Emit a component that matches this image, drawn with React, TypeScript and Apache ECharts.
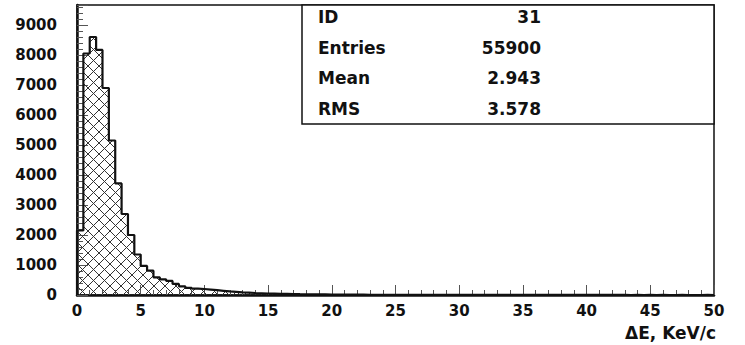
import React, { useEffect, useRef } from "react";
import * as echarts from "echarts";

// Histogram of ΔE (KeV/c), 100 bins of width 0.5 from 0 to 50
const BIN_WIDTH = 0.5;
const BIN_COUNTS = [
  2150, 8050, 8600, 8170, 6900, 5150, 3720, 2700, 2000, 1350,
  970, 810, 590, 520, 470, 370, 290, 240, 215, 200,
  180, 160, 140, 120, 105, 90, 78, 66, 58, 50,
  45, 40, 36, 32, 28, 25, 22, 20, 18, 16,
  14, 13, 12, 11, 10, 9, 8, 8, 7, 7,
  6, 6, 5, 5, 5, 4, 4, 4, 3, 3,
  3, 3, 3, 2, 2, 2, 2, 2, 2, 2,
  2, 2, 1, 1, 1, 1, 1, 1, 1, 1,
  1, 1, 1, 1, 1, 1, 0, 1, 0, 1,
  0, 1, 0, 0, 1, 0, 0, 0, 1, 0,
];
const X_MIN = 0;
const X_MAX = 50;
const Y_MAX = 9667;

const STAT_LABELS = ["ID", "Entries", "Mean", "RMS"];
const STAT_VALUES = ["31", "55900", "2.943", "3.578"];
const X_TITLE = "\u0394E, KeV/c";

const FONT = "DejaVu Sans";

function makeHatch(): HTMLCanvasElement {
  const c = document.createElement("canvas");
  c.width = 11;
  c.height = 11;
  const ctx = c.getContext("2d")!;
  ctx.strokeStyle = "#333";
  ctx.lineWidth = 1;
  ctx.beginPath();
  ctx.moveTo(-1, -1);
  ctx.lineTo(12, 12);
  ctx.moveTo(-1, 12);
  ctx.lineTo(12, -1);
  ctx.stroke();
  return c;
}

export default function App() {
  const ref = useRef<HTMLDivElement>(null);

  useEffect(() => {
    if (!ref.current) return;
    const chart = echarts.init(ref.current, null, { renderer: "svg" });

    const pts: [number, number][] = [[X_MIN, 0]];
    BIN_COUNTS.forEach((v, i) => pts.push([X_MIN + i * BIN_WIDTH, v]));
    pts.push([X_MAX, BIN_COUNTS[BIN_COUNTS.length - 1]]);
    pts.push([X_MAX, 0]);

    const hatch = makeHatch();

    const statTexts: any[] = [];
    STAT_LABELS.forEach((lab, i) => {
      const y = 17 + i * 30.5;
      statTexts.push({
        type: "text",
        x: 318,
        y: y,
        style: {
          text: lab,
          font: `bold 17px '${FONT}'`,
          fill: "#111",
          textAlign: "left",
          textVerticalAlign: "middle",
        },
      });
      statTexts.push({
        type: "text",
        x: 541,
        y: y,
        style: {
          text: STAT_VALUES[i],
          font: `bold 17px '${FONT}'`,
          fill: "#111",
          textAlign: "right",
          textVerticalAlign: "middle",
        },
      });
    });

    chart.setOption({
      animation: false,
      backgroundColor: "#fff",
      grid: {
        left: 77,
        top: 5,
        width: 637,
        height: 290,
        show: true,
        borderColor: "#111",
        borderWidth: 1.5,
      },
      xAxis: {
        type: "value",
        min: X_MIN,
        max: X_MAX,
        interval: 5,
        axisLine: { show: true, onZero: false, lineStyle: { color: "#111", width: 2.5 } },
        axisTick: { show: true, inside: true, length: 10, lineStyle: { color: "#555", width: 1 } },
        minorTick: { show: true, splitNumber: 5, length: 5, lineStyle: { color: "#555", width: 1 } },
        splitLine: { show: false },
        axisLabel: {
          margin: 8,
          fontFamily: FONT,
          fontWeight: "bold",
          fontSize: 15,
          color: "#111",
          showMinLabel: true,
          showMaxLabel: true,
        },
      },
      yAxis: {
        type: "value",
        min: 0,
        max: Y_MAX,
        interval: 1000,
        axisLine: { show: true, lineStyle: { color: "#111", width: 2.5 } },
        axisTick: { show: true, inside: true, length: 11, lineStyle: { color: "#555", width: 1 } },
        minorTick: { show: true, splitNumber: 5, length: 6, lineStyle: { color: "#555", width: 1 } },
        splitLine: { show: false },
        axisLabel: {
          margin: 20,
          fontFamily: FONT,
          fontWeight: "bold",
          fontSize: 15,
          color: "#111",
          showMaxLabel: false,
          formatter: (v: number) => (v % 1000 === 0 ? String(v) : ""),
        },
      },
      series: [
        {
          type: "line",
          data: pts,
          step: "end",
          showSymbol: false,
          symbol: "none",
          lineStyle: { color: "#111", width: 2.2 },
          areaStyle: {
            color: { image: hatch, repeat: "repeat", imageWidth: 11, imageHeight: 11 } as any,
            opacity: 1,
          },
          z: 3,
        },
      ],
      graphic: [
        {
          type: "rect",
          shape: { x: 302, y: 5, width: 412, height: 119 },
          style: { fill: "#fff", stroke: "#111", lineWidth: 1.5 },
          z: 10,
        },
        ...statTexts.map((t) => ({ ...t, z: 11 })),
        {
          type: "text",
          x: 716,
          y: 333,
          style: {
            text: X_TITLE,
            font: `bold 17px '${FONT}'`,
            fill: "#111",
            textAlign: "right",
            textVerticalAlign: "middle",
          },
        },
      ],
    });

    return () => chart.dispose();
  }, []);

  return (
    <div
      ref={ref}
      style={{ position: "absolute", left: 0, top: 0, width: 745, height: 345 }}
    />
  );
}
